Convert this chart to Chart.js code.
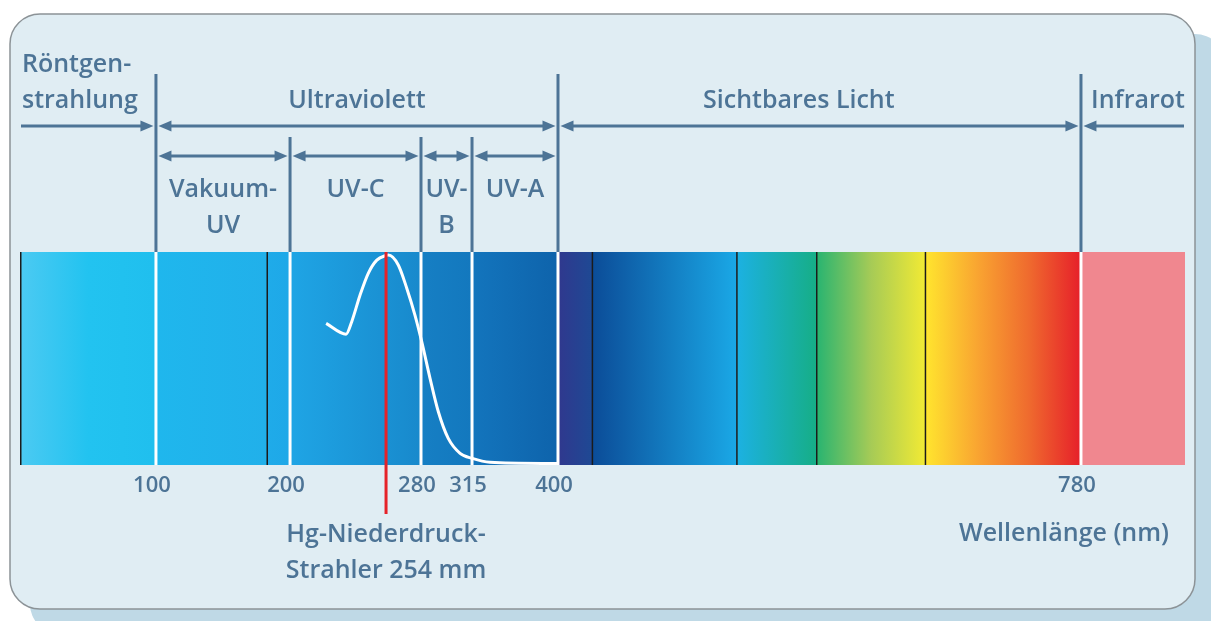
<!DOCTYPE html>
<html>
<head>
<meta charset="utf-8">
<script src="https://cdn.jsdelivr.net/npm/chart.js@4.4.1/dist/chart.umd.min.js"></script>
<style>
  html, body { margin: 0; padding: 0; background: #fff; overflow: hidden; }
</style>
</head>
<body>
<canvas id="spectrum" width="1211" height="621"></canvas>
<script>
// ---------- data ----------
// the drawing is not to scale: wavelength knots and their share of the band width
const knotWl   = [0, 100, 200, 254, 280, 315, 400, 780, 1000];
const knotFrac = [0, 0.1167, 0.2318, 0.3142, 0.3442, 0.3880, 0.4618, 0.9107, 1];

// colour band segments (nm)
const segStart = [0, 100, 183, 200, 280, 315, 400, 425, 530, 588, 667, 780];
const segEnd   = [100, 183, 200, 280, 315, 400, 425, 530, 588, 667, 780, 1000];

// separators inside the band
const whiteLines = [100, 200, 280, 315, 400, 780];
const blackLines = [0, 183, 425, 530, 588, 667];

// tick labels on the wavelength axis
const tickWl = [100, 200, 280, 315, 400, 780];

// emission curve of the low pressure lamp (relative)
const curveWl = [220.3, 231.5, 234.7, 239.4, 244, 248.8, 254, 255.7, 263.1, 269.4, 275.5, 280.5,
                 286.2, 291.9, 298.7, 306.8, 315.3, 332.8, 399];
const curveY  = [0.665, 0.614, 0.673, 0.798, 0.9, 0.962, 0.984, 0.986, 0.939, 0.83, 0.704, 0.579,
                 0.407, 0.25, 0.125, 0.055, 0.031, 0.013, 0.007];

// marked line
const hgLine = 254;

// range arrows
const row1From = [0, 100, 400, 780];
const row1To   = [100, 400, 780, 1000];
const row2From = [100, 200, 280, 315];
const row2To   = [200, 280, 315, 400];

// labels
const row1Labels = [['Röntgen-', 'strahlung'], ['Ultraviolett'], ['Sichtbares Licht'], ['Infrarot']];
const row2Labels = [['Vakuum-', 'UV'], ['UV-C'], ['UV-', 'B'], ['UV-A']];

// ---------- styles ----------
const segColors = [
  ['#4ccaf2', '#22c3f0', '#20bfee'],
  ['#1fb7ed', '#21b0ea'],
  ['#1fabe9', '#1ea8e8'],
  ['#1fa5e5', '#1889cc'],
  ['#167fc4', '#1378be'],
  ['#1375bd', '#0e63ab'],
  ['#30388e', '#1e4994'],
  ['#0b4c98', '#1aa8e6'],
  ['#1cb1e2', '#16ae86'],
  ['#28b471', '#a6cb56', '#f2ea34'],
  ['#ffe52e', '#f9a531', '#ef6a2e', '#e61f2a'],
  ['#f0878f', '#f0878f']
];
const ink = '#4d7496';
const FONT = "'Open Sans', 'DejaVu Sans', sans-serif";

// ---------- piecewise wavelength scale ----------
function wlToFrac(v) {
  if (v <= knotWl[0]) return knotFrac[0];
  for (let i = 1; i < knotWl.length; i++) {
    if (v <= knotWl[i]) {
      const t = (v - knotWl[i - 1]) / (knotWl[i] - knotWl[i - 1]);
      return knotFrac[i - 1] + t * (knotFrac[i] - knotFrac[i - 1]);
    }
  }
  return knotFrac[knotFrac.length - 1];
}
function fracToWl(f) {
  for (let i = 1; i < knotFrac.length; i++) {
    if (f <= knotFrac[i]) {
      const t = (f - knotFrac[i - 1]) / (knotFrac[i] - knotFrac[i - 1]);
      return knotWl[i - 1] + t * (knotWl[i] - knotWl[i - 1]);
    }
  }
  return knotWl[knotWl.length - 1];
}

class SpectrumScale extends Chart.LinearScale {
  getPixelForValue(v) {
    return this.getPixelForDecimal(wlToFrac(v));
  }
  getValueForPixel(p) {
    return fracToWl(this.getDecimalForPixel(p));
  }
}
SpectrumScale.id = 'spectrum';
SpectrumScale.defaults = Chart.LinearScale.defaults;
Chart.register(SpectrumScale);

// ---------- helpers ----------
function gradientFor(i) {
  return (c) => {
    const chart = c.chart;
    if (!chart.chartArea) return segColors[i][0];
    const x = chart.scales.x;
    const g = chart.ctx.createLinearGradient(x.getPixelForValue(segStart[i]), 0, x.getPixelForValue(segEnd[i]), 0);
    const stops = segColors[i];
    stops.forEach((col, k) => g.addColorStop(k / (stops.length - 1), col));
    return g;
  };
}

function roundedRect(ctx, x, y, w, h, r) {
  ctx.beginPath();
  ctx.moveTo(x + r, y);
  ctx.arcTo(x + w, y, x + w, y + h, r);
  ctx.arcTo(x + w, y + h, x, y + h, r);
  ctx.arcTo(x, y + h, x, y, r);
  ctx.arcTo(x, y, x + w, y, r);
  ctx.closePath();
}

function head(ctx, x, y, dir) {
  ctx.beginPath();
  ctx.moveTo(x, y);
  ctx.lineTo(x + dir * 13, y - 5.5);
  ctx.lineTo(x + dir * 13, y + 5.5);
  ctx.closePath();
  ctx.fill();
}

function arrow(ctx, xa, xb, y, left, right) {
  ctx.beginPath();
  ctx.moveTo(xa + (left ? 8 : 0), y);
  ctx.lineTo(xb - (right ? 8 : 0), y);
  ctx.stroke();
  if (left) head(ctx, xa, y, 1);
  if (right) head(ctx, xb, y, -1);
}

function lines(ctx, text, x, y0, step, align) {
  ctx.textAlign = align || 'center';
  text.forEach((t, k) => ctx.fillText(t, x, y0 + k * step));
}

// ---------- plugin for the frame, separators and annotations ----------
const spectrumDecor = {
  id: 'spectrumDecor',
  beforeDraw(chart) {
    const ctx = chart.ctx;
    ctx.save();
    ctx.fillStyle = '#bfd9e6';
    roundedRect(ctx, 30, 34, 1195, 600, 30);
    ctx.fill();
    ctx.fillStyle = '#e0edf3';
    roundedRect(ctx, 10, 14, 1185, 595, 30);
    ctx.fill();
    ctx.strokeStyle = '#8c9397';
    ctx.lineWidth = 1.5;
    ctx.stroke();
    ctx.restore();
  },
  // band datasets are drawn last-index first, so index 0 is the last band piece
  afterDatasetDraw(chart, args) {
    if (args.index !== 0) return;
    const ctx = chart.ctx, x = chart.scales.x, a = chart.chartArea;
    ctx.save();
    ctx.strokeStyle = '#1b1b1b';
    ctx.lineWidth = 1.5;
    blackLines.forEach(v => {
      const px = Math.max(x.getPixelForValue(v), a.left + 0.75);
      ctx.beginPath(); ctx.moveTo(px, a.top); ctx.lineTo(px, a.bottom); ctx.stroke();
    });
    ctx.strokeStyle = '#ffffff';
    ctx.lineWidth = 3;
    whiteLines.forEach(v => {
      const px = x.getPixelForValue(v);
      ctx.beginPath(); ctx.moveTo(px, a.top); ctx.lineTo(px, a.bottom); ctx.stroke();
    });
    ctx.restore();
  },
  afterDatasetsDraw(chart) {
    const ctx = chart.ctx, x = chart.scales.x, a = chart.chartArea;
    const px = x.getPixelForValue(hgLine);
    ctx.save();
    ctx.strokeStyle = '#e52229';
    ctx.lineWidth = 3;
    ctx.beginPath(); ctx.moveTo(px, a.top); ctx.lineTo(px, 514); ctx.stroke();
    ctx.restore();
  },
  afterDraw(chart) {
    const ctx = chart.ctx, x = chart.scales.x, a = chart.chartArea;
    const P = v => x.getPixelForValue(v);
    ctx.save();
    ctx.strokeStyle = ink;
    ctx.fillStyle = ink;
    ctx.lineWidth = 3;

    // boundary lines above the band
    [100, 400, 780].forEach(v => {
      ctx.beginPath(); ctx.moveTo(P(v), 74); ctx.lineTo(P(v), a.top); ctx.stroke();
    });
    [200, 280, 315].forEach(v => {
      ctx.beginPath(); ctx.moveTo(P(v), 137); ctx.lineTo(P(v), a.top); ctx.stroke();
    });

    // range arrows
    row1From.forEach((f, i) => {
      const l = i > 0, r = i < row1From.length - 1;
      const xa = i === 0 ? a.left + 1 : P(f) + 2.5;
      const xb = i === row1From.length - 1 ? a.right - 1 : P(row1To[i]) - 2.5;
      arrow(ctx, xa, xb, 126, l, r);
    });
    row2From.forEach((f, i) => {
      arrow(ctx, P(f) + 2.5, P(row2To[i]) - 2.5, 156, true, true);
    });

    // labels
    ctx.font = '600 25px ' + FONT;
    ctx.textBaseline = 'alphabetic';
    lines(ctx, row1Labels[0], a.left + 2, 72, 36, 'left');
    lines(ctx, row1Labels[1], (P(100) + P(400)) / 2, 108, 36);
    lines(ctx, row1Labels[2], P(575), 108, 36);
    lines(ctx, row1Labels[3], (P(780) + a.right) / 2 + 5, 108, 36);
    row2Labels.forEach((t, i) => {
      lines(ctx, t, (P(row2From[i]) + P(row2To[i])) / 2, 197, 36);
    });

    lines(ctx, ['Hg-Niederdruck-', 'Strahler 254 mm'], P(hgLine), 542, 36);
    lines(ctx, ['Wellenlänge (nm)'], 1169, 541, 36, 'right');
    ctx.restore();
  }
};

// ---------- chart ----------
const bandSets = segStart.map((s, i) => ({
  data: [{ x: s, y: 1 }, { x: segEnd[i], y: 1 }],
  fill: 'origin',
  backgroundColor: gradientFor(i),
  borderColor: 'rgba(0,0,0,0)',
  borderWidth: 0,
  pointRadius: 0,
  tension: 0,
  order: 1
}));

const curveSet = {
  data: curveWl.map((w, i) => ({ x: w, y: curveY[i] })),
  borderColor: '#ffffff',
  borderWidth: 3,
  pointRadius: 0,
  fill: false,
  cubicInterpolationMode: 'monotone',
  order: 0
};

new Chart(document.getElementById('spectrum'), {
  type: 'line',
  data: { datasets: [...bandSets, curveSet] },
  options: {
    responsive: false,
    animation: false,
    layout: { padding: { left: 20, right: 26, top: 252, bottom: 0 } },
    plugins: { legend: { display: false }, tooltip: { enabled: false } },
    scales: {
      x: {
        type: 'spectrum',
        min: 0,
        max: 1000,
        afterBuildTicks: (axis) => { axis.ticks = tickWl.map(v => ({ value: v })); },
        afterFit: (axis) => { axis.height = 156; },
        grid: { display: false, drawTicks: false },
        border: { display: false },
        ticks: {
          autoSkip: false,
          maxRotation: 0,
          padding: 8,
          labelOffset: -4,
          color: ink,
          font: { family: FONT, size: 22, weight: '600' },
          callback: (v) => String(v)
        }
      },
      y: { display: false, min: 0, max: 1 }
    }
  },
  plugins: [spectrumDecor]
});
</script>
</body>
</html>
